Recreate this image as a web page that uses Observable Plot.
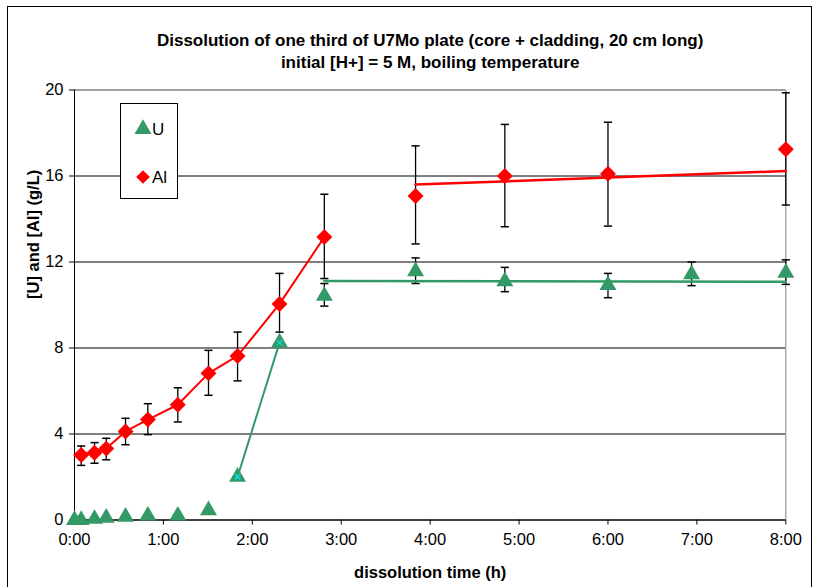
<!DOCTYPE html>
<html>
<head>
<meta charset="utf-8">
<script src="https://cdn.jsdelivr.net/npm/d3@7"></script>
<script src="https://cdn.jsdelivr.net/npm/@observablehq/plot@0.6"></script>
<style>
  html, body { margin: 0; padding: 0; background: #fff; }
  #wrap { position: relative; width: 815px; height: 587px; overflow: hidden; font-family: "Liberation Sans", Arial, sans-serif; }
  #frame { position: absolute; left: 7px; top: 6px; width: 805px; height: 600px; border: 1px solid #000; box-sizing: border-box; pointer-events: none; }
  #legend { position: absolute; left: 120px; top: 103px; width: 58px; height: 96px; border: 1px solid #000; box-sizing: border-box; background: #fff; }
</style>
</head>
<body>
<div id="wrap"><div id="chart"></div><div id="legend"></div><div id="frame"></div></div>
<script>
// ---- data (hours, g/L) ----
const titleLines = ["Dissolution of one third of U7Mo plate (core + cladding, 20 cm long)", "initial [H+] = 5 M, boiling temperature"];
const xLabel = "dissolution time (h)";
const yLabel = "[U] and [Al] (g/L)";
const xTicks = [0, 1, 2, 3, 4, 5, 6, 7, 8];
const yTicks = [0, 4, 8, 12, 16, 20];
const seriesNames = ["U", "Al"];

const alTime = [0.075, 0.225, 0.357, 0.574, 0.825, 1.162, 1.507, 1.834, 2.306, 2.81, 3.836, 4.84, 6.0, 8.0];
const alVal  = [3.02, 3.13, 3.32, 4.12, 4.67, 5.36, 6.82, 7.63, 10.05, 13.16, 15.07, 16.0, 16.1, 17.24];
const alLo   = [2.54, 2.64, 2.80, 3.50, 3.97, 4.56, 5.80, 6.47, 8.74, 11.23, 12.84, 13.64, 13.67, 14.65];
const alHi   = [3.44, 3.60, 3.80, 4.73, 5.41, 6.15, 7.89, 8.74, 11.47, 15.15, 17.4, 18.4, 18.5, 19.87];

const uTime = [0, 0.075, 0.225, 0.357, 0.574, 0.825, 1.162, 1.507, 1.834, 2.306, 2.81, 3.836, 4.84, 6.0, 6.94, 8.0];
const uVal  = [0, 0, 0.05, 0.1, 0.15, 0.2, 0.2, 0.45, 2.01, 8.25, 10.42, 11.57, 11.1, 10.93, 11.43, 11.5];
const uLo   = [null, null, null, null, null, null, null, null, null, null, 9.95, 11.0, 10.62, 10.34, 10.9, 10.96];
const uHi   = [null, null, null, null, null, null, null, null, null, null, 11.0, 12.19, 11.75, 11.47, 12.0, 12.1];

// connecting segments and fitted plateau lines
const alRiseIdx = [0, 1, 2, 3, 4, 5, 6, 7, 8, 9];
const uRiseIdx = [8, 9];
const uMarkedIdx = [8, 9];
const alFitTime = [3.836, 8.0], alFitVal = [15.6, 16.23];
const uFitTime = [2.81, 8.0],   uFitVal = [11.12, 11.08];
const gridY = [4, 8, 12, 16];

// ---- build tables ----
const al = alTime.map((t, i) => ({t, v: alVal[i], lo: alLo[i], hi: alHi[i]}));
const u = uTime.map((t, i) => ({t, v: uVal[i], lo: uLo[i], hi: uHi[i]}));
const alErr = al.filter(d => d.lo != null);
const uErr = u.filter(d => d.lo != null);
const alRise = alRiseIdx.map(i => al[i]);
const uRise = uRiseIdx.map(i => u[i]);
const uMarked = uMarkedIdx.map(i => u[i]);
const alFit = alFitTime.map((t, i) => ({t, v: alFitVal[i]}));
const uFit = uFitTime.map((t, i) => ({t, v: uFitVal[i]}));

const RED = "#FF0000", GREEN = "#339966";
const FONT = "'Liberation Sans', Arial, sans-serif";
const cap = { draw(ctx, size) { const w = Math.sqrt(size); ctx.moveTo(-w, 0); ctx.lineTo(w, 0); } };

const errMarks = (data) => [
  Plot.ruleX(data, {x: "t", y1: "lo", y2: "hi", stroke: "#000", strokeWidth: 1.3}),
  Plot.dot(data, {x: "t", y: "lo", symbol: cap, r: 2.3, stroke: "#000", strokeWidth: 1.5, fill: "none"}),
  Plot.dot(data, {x: "t", y: "hi", symbol: cap, r: 2.3, stroke: "#000", strokeWidth: 1.5, fill: "none"})
];

const chart = Plot.plot({
  width: 815,
  height: 587,
  marginLeft: 74,
  marginRight: 29.7,
  marginTop: 89.5,
  marginBottom: 67.5,
  style: {fontFamily: FONT, fontSize: "16.5px", color: "#000", background: "#fff", overflow: "visible"},
  x: {domain: [0, 8]},
  y: {domain: [0, 20]},
  marks: [
    Plot.ruleY(gridY, {stroke: "#000", strokeWidth: 1}),
    Plot.ruleY([20], {stroke: "#808080", strokeWidth: 1.5}),
    Plot.ruleX([8], {stroke: "#808080", strokeWidth: 1}),
    Plot.ruleX([0], {stroke: "#000", strokeWidth: 1}),
    Plot.ruleY([0], {stroke: "#000", strokeWidth: 1.5}),
    Plot.axisX({ticks: xTicks, tickFormat: d => `${d}:00`, label: null, tickSize: 5, tickPadding: 8, fontSize: 16.5}),
    Plot.axisY({ticks: yTicks, label: null, tickSize: 5, tickPadding: 6, fontSize: 16.5}),
    ...errMarks(alErr),
    ...errMarks(uErr),
    Plot.line(alRise, {x: "t", y: "v", stroke: RED, strokeWidth: 2}),
    Plot.line(alFit, {x: "t", y: "v", stroke: RED, strokeWidth: 2.5}),
    Plot.line(uRise, {x: "t", y: "v", stroke: GREEN, strokeWidth: 2}),
    Plot.line(uFit, {x: "t", y: "v", stroke: GREEN, strokeWidth: 2.5}),
    Plot.dot(al, {x: "t", y: "v", symbol: "diamond2", r: 7.2, fill: RED, stroke: "none"}),
    Plot.dot(u, {x: "t", y: "v", symbol: "triangle", r: 6.3, fill: GREEN, stroke: "none"}),
    Plot.dot(uMarked, {x: "t", y: "v", symbol: "times", r: 2.6, stroke: "#00E5E5", strokeWidth: 1.2}),
    Plot.text([titleLines[0]], {frameAnchor: "top", lineAnchor: "middle", dy: -49.5, fontWeight: "bold", fontSize: 17}),
    Plot.text([titleLines[1]], {frameAnchor: "top", lineAnchor: "middle", dy: -27.5, fontWeight: "bold", fontSize: 17}),
    Plot.text([xLabel], {frameAnchor: "bottom", lineAnchor: "middle", dy: 53, fontWeight: "bold", fontSize: 16.5}),
    Plot.text([yLabel], {frameAnchor: "left", lineAnchor: "middle", dx: -41, dy: -6, rotate: -90, fontWeight: "bold", fontSize: 16.5})
  ]
});
document.getElementById("chart").appendChild(chart);

// ---- legend ----
const leg = d3.select("#legend").append("svg").attr("width", 58).attr("height", 96);
const legRows = [
  {name: seriesNames[0], sym: d3.symbolTriangle, size: 125, fill: GREEN, y: 25},
  {name: seriesNames[1], sym: d3.symbolDiamond2, size: 120, fill: RED, y: 73}
];
legRows.forEach(r => {
  leg.append("path").attr("d", d3.symbol(r.sym, r.size)()).attr("transform", `translate(22,${r.y})`).attr("fill", r.fill);
  leg.append("text").attr("x", 31).attr("y", r.y).attr("dy", "0.35em").attr("font-size", 17).attr("font-family", FONT).text(r.name);
});
</script>
</body>
</html>
